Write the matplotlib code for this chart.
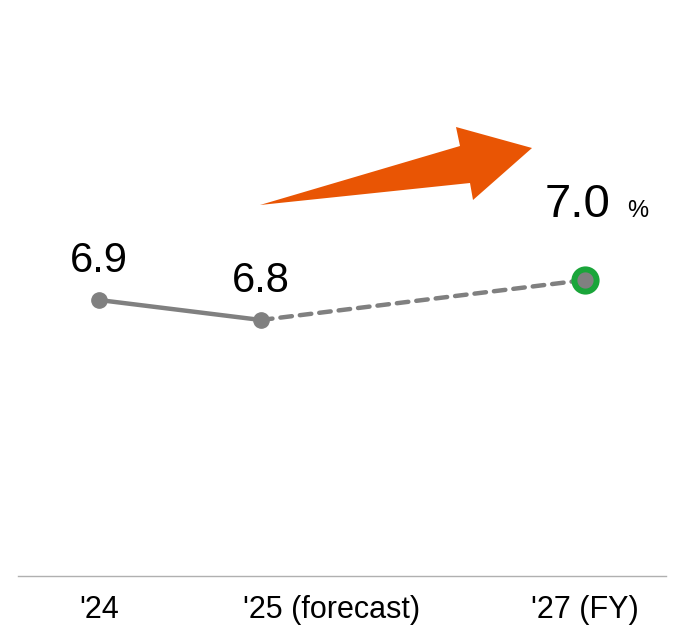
import matplotlib.pyplot as plt
from matplotlib.patches import Polygon
from matplotlib.transforms import offset_copy

# datos del grafico
years = [2024, 2025, 2027]
tick_labels = ["'24", "'25 (forecast)", "'27 (FY)"]
values = [6.9, 6.8, 7.0]
value_labels = ["6.9", "6.8", "7.0"]

gray = '#808080'
green = '#1aa53a'
orange = '#e95504'

W, H = 679, 627
fig = plt.figure(figsize=(W / 100, H / 100), dpi=100)
plt.rcParams['font.family'] = 'Liberation Sans'
ax = fig.add_axes([18 / W, (H - 576) / H, 648 / W, 576 / H])
ax.set_xlim(2023.5, 2027.5)
ax.set_ylim(5.52, 8.4)

# tramo real (linea continua) y tramo objetivo (discontinua)
ax.plot(years[:2], values[:2], color=gray, lw=3.2, solid_capstyle='round', zorder=2)
ax.plot(years[1:], values[1:], color=gray, lw=3.2, ls=(0, (2.6, 1.8)),
        dash_capstyle='round', zorder=2)
ax.plot(years[:2], values[:2], 'o', color=gray, ms=11, zorder=3)
ax.plot(years[2], values[2], 'o', color=gray, mfc=gray, mec=green, mew=4.3,
        ms=16, zorder=3)

# etiquetas de valores
for i in range(2):
    ax.annotate(value_labels[i], (years[i], values[i]), xytext=(0, 20),
                textcoords='offset points', ha='center', va='baseline',
                fontsize=30)
ax.annotate(value_labels[2], (years[2], values[2]), xytext=(-5, 45),
            textcoords='offset points', ha='center', va='baseline',
            fontsize=34)
ax.annotate('%', (years[2], values[2]), xytext=(38, 45),
            textcoords='offset points', ha='center', va='baseline',
            fontsize=17)

# flecha naranja
pts = [(260, 205), (460, 146), (456, 127), (532, 148), (473, 200), (470, 183)]
arrow = Polygon([(x / W, 1 - y / H) for x, y in pts], closed=True,
                transform=fig.transFigure, facecolor=orange, edgecolor='none')
fig.patches.append(arrow)

ax.set_xticks(years)
ax.set_xticklabels(tick_labels, fontsize=22)
ax.tick_params(axis='x', length=0, pad=14)
# la etiqueta del '25 arranca cerca del punto
lbl = ax.get_xticklabels()[1]
lbl.set_horizontalalignment('left')
lbl.set_transform(offset_copy(lbl.get_transform(), fig=fig, x=-18, y=0, units='dots'))
ax.set_yticks([])
for s in ['top', 'left', 'right']:
    ax.spines[s].set_visible(False)
ax.spines['bottom'].set_color('#b0b0b0')
ax.spines['bottom'].set_linewidth(1)

fig.savefig('out.png', dpi=100)
